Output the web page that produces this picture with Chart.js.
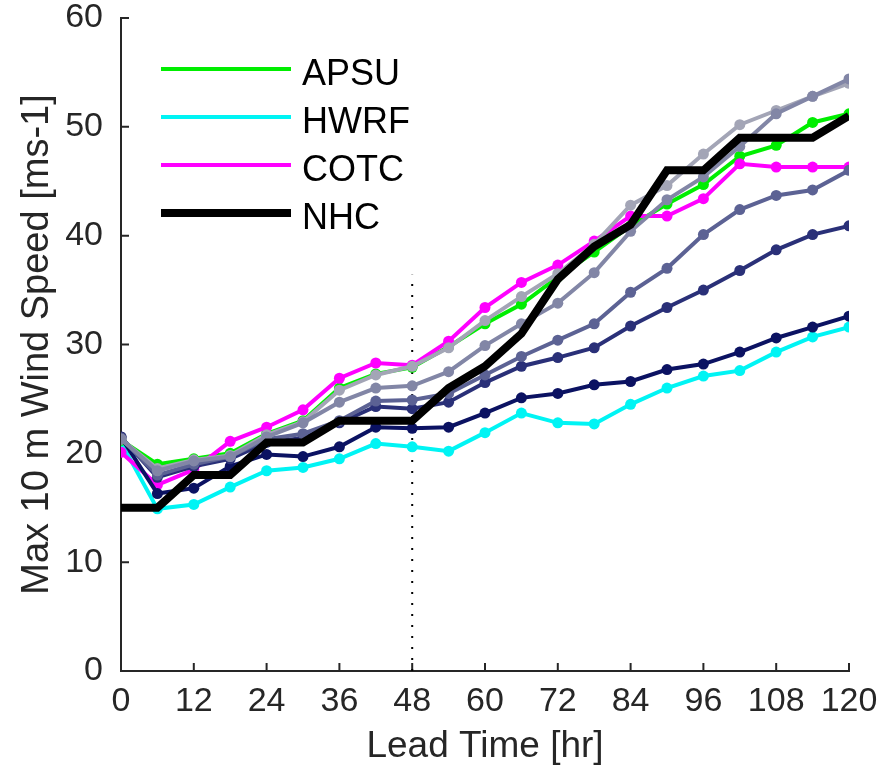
<!DOCTYPE html>
<html>
<head>
<meta charset="utf-8">
<script src="https://cdn.jsdelivr.net/npm/chart.js@4"></script>
<style>
  html, body { margin: 0; padding: 0; background: #fff; }
  #wrap { width: 877px; height: 771px; }
</style>
</head>
<body>
<div id="wrap"><canvas id="chart" width="877" height="771"></canvas></div>
<script>
// lead times (hr)
const leadTimes = [0, 6, 12, 18, 24, 30, 36, 42, 48, 54, 60, 66, 72, 78, 84, 90, 96, 102, 108, 114, 120];

// max 10 m wind speed [ms-1]
const apsu = [21.2, 19.0, 19.5, 20.0, 21.8, 23.0, 26.0, 27.3, 27.9, 29.8, 31.9, 33.7, 36.2, 38.5, 40.9, 42.9, 44.7, 47.3, 48.3, 50.4, 51.2];
const hwrf = [21.0, 14.9, 15.3, 16.9, 18.4, 18.7, 19.5, 20.9, 20.6, 20.2, 21.9, 23.7, 22.8, 22.7, 24.5, 26.0, 27.1, 27.6, 29.3, 30.7, 31.6];
const cotc = [20.1, 17.1, 18.5, 21.1, 22.4, 24.0, 26.9, 28.3, 28.1, 30.3, 33.4, 35.7, 37.3, 39.5, 41.8, 41.8, 43.4, 46.6, 46.3, 46.3, 46.3];
const nhc  = [15, 15, 18, 18, 21, 21, 23, 23, 23, 26, 28, 31, 36, 39, 41, 46, 46, 49, 49, 49, 51];

// unlabelled gray / navy runs
const run1 = [21.3, 18.6, 19.4, 19.8, 21.7, 22.9, 25.8, 27.2, 28.0, 29.7, 32.2, 34.4, 36.5, 39.2, 42.8, 44.6, 47.5, 50.2, 51.5, 52.8, 54.0];
const run2 = [21.3, 18.4, 19.3, 19.7, 21.5, 22.8, 24.7, 26.0, 26.2, 27.5, 29.9, 31.9, 33.8, 36.6, 40.4, 43.3, 45.4, 48.2, 51.2, 52.8, 54.4];
const run3 = [21.4, 18.0, 19.0, 19.7, 21.3, 21.8, 23.0, 24.8, 24.9, 25.5, 27.2, 28.9, 30.4, 31.9, 34.8, 37.0, 40.1, 42.4, 43.7, 44.2, 46.0];
const run4 = [21.5, 17.8, 18.8, 19.5, 21.0, 21.4, 22.8, 24.3, 24.1, 24.7, 26.5, 28.0, 28.8, 29.7, 31.7, 33.4, 35.0, 36.8, 38.7, 40.1, 40.9];
const run5 = [21.5, 16.3, 16.8, 18.8, 19.9, 19.7, 20.6, 22.4, 22.3, 22.4, 23.7, 25.1, 25.5, 26.3, 26.6, 27.7, 28.2, 29.3, 30.6, 31.6, 32.6];

const markerTime = 48;
const markerTop = 36.4;

const legendNames = ['APSU', 'HWRF', 'COTC', 'NHC'];
const fontFamily = '"Liberation Sans", Arial, Helvetica, sans-serif';
const axisColor = '#262626';

function pts(vals) {
    return vals.map((v, i) => ({x: leadTimes[i], y: v}));
}

function runSet(label, vals, color, order) {
    return {
        label: label, data: pts(vals), borderColor: color, backgroundColor: color,
        borderWidth: 4, pointRadius: 5.5, pointBorderWidth: 0, order: order
    };
}

// MATLAB style ticks pointing into the plot
const inwardTicks = {
    id: 'inwardTicks',
    beforeDatasetsDraw(chart) {
        const {ctx, chartArea: a, scales: {x, y}} = chart;
        ctx.save();
        ctx.strokeStyle = axisColor;
        ctx.lineWidth = 2;
        ctx.beginPath();
        x.ticks.forEach(t => {
            const px = x.getPixelForValue(t.value);
            ctx.moveTo(px, a.bottom);
            ctx.lineTo(px, a.bottom - 8);
        });
        y.ticks.forEach(t => {
            const py = y.getPixelForValue(t.value);
            ctx.moveTo(a.left, py);
            ctx.lineTo(a.left + 8, py);
        });
        ctx.stroke();
        ctx.restore();
    }
};

const lineLegend = {
    id: 'lineLegend',
    afterDatasetsDraw(chart) {
        const ctx = chart.ctx;
        const a = chart.chartArea;
        ctx.save();
        ctx.font = '36px ' + fontFamily;
        ctx.textBaseline = 'alphabetic';
        legendNames.forEach((name, i) => {
            const ds = chart.data.datasets.find(d => d.label === name);
            const ly = a.top + 51 + i * 48;
            ctx.strokeStyle = ds.borderColor;
            ctx.lineWidth = ds.borderWidth;
            ctx.beginPath();
            ctx.moveTo(a.left + 40, ly);
            ctx.lineTo(a.left + 170, ly);
            ctx.stroke();
            ctx.fillStyle = '#000';
            ctx.fillText(name, a.left + 181, ly + 16);
        });
        ctx.restore();
    }
};

new Chart(document.getElementById('chart'), {
    type: 'line',
    data: {
        datasets: [
            {label: 'NHC', data: pts(nhc), borderColor: '#000000', backgroundColor: '#000000',
             borderWidth: 8, pointRadius: 0, order: 0},
            runSet('run2', run2, '#8286a6', 1),
            runSet('run1', run1, '#a3a5b6', 2),
            runSet('run3', run3, '#5c6294', 3),
            runSet('run4', run4, '#2a3078', 4),
            runSet('run5', run5, '#0b1262', 5),
            runSet('COTC', cotc, '#ff00ff', 6),
            runSet('APSU', apsu, '#00ee00', 7),
            runSet('HWRF', hwrf, '#00f4f4', 8),
            {label: 'marker', data: [{x: markerTime, y: 0}, {x: markerTime, y: markerTop}],
             borderColor: '#000000', borderWidth: 2, borderDash: [2, 9], pointRadius: 0, order: 9}
        ]
    },
    options: {
        responsive: false,
        animation: false,
        devicePixelRatio: 1,
        layout: {padding: {top: 18, right: 28, left: 0, bottom: 0}},
        plugins: {
            legend: {display: false},
            tooltip: {enabled: false}
        },
        scales: {
            x: {
                type: 'linear', min: 0, max: 120,
                afterFit: s => { s.height = 100; s.paddingLeft = 0; s.paddingRight = 0; },
                ticks: {stepSize: 12, color: axisColor, padding: 2, maxRotation: 0,
                        font: {size: 34, family: fontFamily}},
                grid: {display: false},
                border: {display: true, color: axisColor, width: 2},
                title: {display: true, text: 'Lead Time [hr]', color: axisColor,
                        font: {size: 37, family: fontFamily}, padding: {top: 4, bottom: 2}}
            },
            y: {
                min: 0, max: 60,
                afterFit: s => { s.width = 121; s.paddingTop = 0; s.paddingBottom = 0; },
                ticks: {stepSize: 10, color: axisColor, padding: 10,
                        font: {size: 34, family: fontFamily}},
                grid: {display: false},
                border: {display: true, color: axisColor, width: 2},
                title: {display: true, text: 'Max 10 m Wind Speed [ms-1]', color: axisColor,
                        font: {size: 38, family: fontFamily}, padding: {top: 15, bottom: 15}}
            }
        }
    },
    plugins: [inwardTicks, lineLegend]
});
</script>
</body>
</html>
